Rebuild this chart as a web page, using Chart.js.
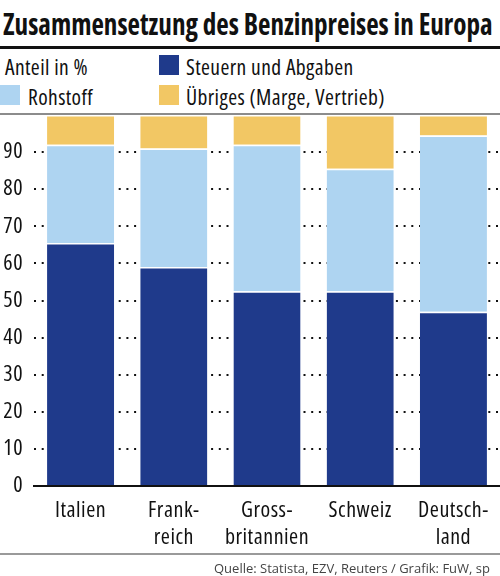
<!DOCTYPE html>
<html>
<head>
<meta charset="utf-8">
<script src="https://cdn.jsdelivr.net/npm/chart.js@4.4.1/dist/chart.umd.min.js"></script>
<style>
  html, body { margin: 0; padding: 0; background: #fff; }
  body {
    width: 500px; height: 576px; position: relative; overflow: hidden;
    font-family: "Open Sans", sans-serif; font-stretch: condensed;
    color: #111;
  }
  #title {
    position: absolute; left: 3px; top: 9px; font-weight: bold;
    font-size: 30px; line-height: 30px; white-space: nowrap; transform-origin: 0 0;
  }
  .rule { position: absolute; left: 0; width: 500px; }
  .leg { position: absolute; font-size: 21.5px; line-height: 21.5px; letter-spacing: 0.4px; white-space: nowrap; }
  .sw { position: absolute; width: 20px; height: 20px; }
  #source {
    position: absolute; left: 214px; top: 562px; font-stretch: normal;
    font-size: 13px; line-height: 13px; color: #444; white-space: nowrap;
  }
  #wrap { position: absolute; left: 0; top: 110px; width: 500px; height: 445px; }
</style>
</head>
<body>
<div id="title">Zusammensetzung des Benzinpreises in Europa</div>
<div class="rule" style="top:46px;height:3px;background:#111"></div>

<div class="leg" style="left:5px;top:56px">Anteil in %</div>
<div id="legend"></div>

<div class="rule" style="top:113px;height:2px;background:#8c8c8c"></div>
<div id="wrap"><canvas id="chart"></canvas></div>
<div class="rule" style="top:553px;height:2px;background:#9a9a9a"></div>
<div id="source">Quelle: Statista, EZV, Reuters / Grafik: FuW, sp</div>

<script>
const countries = [["Italien"], ["Frank-", "reich"], ["Gross-", "britannien"], ["Schweiz"], ["Deutsch-", "land"]];
const steuern = [65.5, 59, 52.5, 52.5, 47];
const rohstoff = [26.5, 32, 39.5, 33, 47.5];
const uebriges = [8, 9, 8, 14.5, 5.5];
const yTicks = [0, 10, 20, 30, 40, 50, 60, 70, 80, 90];

const colors = { steuern: "#1f3a8b", rohstoff: "#aed4f1", uebriges: "#f2c764" };

// legend boxes, same layout as the print graphic
const legendItems = [
  { text: "Steuern und Abgaben", color: colors.steuern, x: 159, y: 55 },
  { text: "Rohstoff", color: colors.rohstoff, x: 0, y: 85 },
  { text: "Übriges (Marge, Vertrieb)", color: colors.uebriges, x: 159, y: 85 }
];
const legend = document.getElementById("legend");
legendItems.forEach(item => {
  const sw = document.createElement("div");
  sw.className = "sw";
  sw.style.left = item.x + "px";
  sw.style.top = item.y + "px";
  sw.style.background = item.color;
  legend.appendChild(sw);
  const t = document.createElement("div");
  t.className = "leg";
  t.style.left = (item.x + (item.x === 0 ? 28 : 27)) + "px";
  t.style.top = (item.y + 1) + "px";
  t.textContent = item.text;
  legend.appendChild(t);
});

// squeeze the title into the full width
const title = document.getElementById("title");
title.style.transform = "scaleX(" + (490 / title.scrollWidth) + ")";

// chart.js passes weight straight into the canvas font string, so the stretch goes there
const tickFont = { family: "'Open Sans', sans-serif", weight: "condensed", size: 22 };
const seg = { top: 1.5, bottom: 0, left: 0, right: 0 };

// canvas resets its state on resize, so set the spacing before layout and draw
const spacing = {
  id: "spacing",
  beforeLayout: c => { c.ctx.letterSpacing = "0.5px"; },
  beforeDraw: c => { c.ctx.letterSpacing = "0.5px"; }
};

new Chart(document.getElementById("chart"), {
  type: "bar",
  data: {
    labels: countries,
    datasets: [
      { label: "Steuern und Abgaben", data: steuern, backgroundColor: colors.steuern, borderColor: "#fff", borderWidth: seg },
      { label: "Rohstoff", data: rohstoff, backgroundColor: colors.rohstoff, borderColor: "#fff", borderWidth: seg },
      { label: "Übriges (Marge, Vertrieb)", data: uebriges, backgroundColor: colors.uebriges, borderColor: "#fff", borderWidth: seg }
    ]
  },
  plugins: [spacing],
  options: {
    responsive: true,
    maintainAspectRatio: false,
    animation: false,
    layout: { padding: { top: 5, right: 0, left: 0, bottom: 0 } },
    plugins: { legend: { display: false }, tooltip: { enabled: false } },
    scales: {
      x: {
        stacked: true,
        categoryPercentage: 1,
        barPercentage: 0.68,
        grid: { display: false },
        border: { color: "#111", width: 2 },
        ticks: { color: "#111", padding: 4, font: Object.assign({ lineHeight: 1.2 }, tickFont), maxRotation: 0, autoSkip: false },
        afterFit: s => { s.height = 69; s.paddingLeft = 0; s.paddingRight = 0; }
      },
      y: {
        stacked: true,
        min: 0,
        max: 100,
        afterBuildTicks: s => { s.ticks = yTicks.map(v => ({ value: v })); },
        grid: {
          drawTicks: false,
          color: c => c.tick.value === 0 ? "rgba(0,0,0,0)" : "#111",
          lineWidth: 2
        },
        border: { display: false, dash: [2, 5.7] },
        ticks: { color: "#111", padding: 11, font: tickFont },
        afterFit: s => { s.width = 34; s.paddingTop = 0; s.paddingBottom = 0; }
      }
    }
  }
});
</script>
</body>
</html>
